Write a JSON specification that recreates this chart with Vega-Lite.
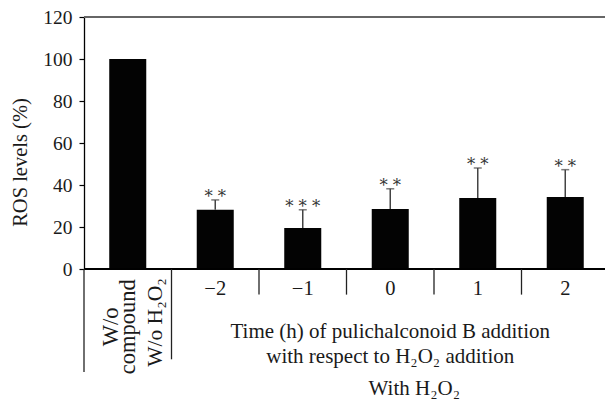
{
  "$schema": "https://vega.github.io/schema/vega-lite/v6.json",
  "width": 521,
  "height": 252,
  "autosize": {"type": "none"},
  "padding": {"left": 84, "top": 17, "right": 0, "bottom": 133},
  "background": "white",
  "config": {
    "view": {"stroke": null},
    "font": "Liberation Serif",
    "text": {"font": "Liberation Serif"}
  },
  "data": {
    "values": [
      {"cat": "W/o", "label": "", "value": 100},
      {"cat": "-2", "label": "−2", "value": 28.2, "upper": 32.9, "sig": "* *"},
      {"cat": "-1", "label": "−1", "value": 19.5, "upper": 28.2, "sig": "* * *"},
      {"cat": "0", "label": "0", "value": 28.6, "upper": 38.2, "sig": "* *"},
      {"cat": "1", "label": "1", "value": 33.8, "upper": 48.1, "sig": "* *"},
      {"cat": "2", "label": "2", "value": 34.3, "upper": 47.3, "sig": "* *"}
    ]
  },
  "encoding": {
    "x": {
      "field": "cat",
      "type": "nominal",
      "sort": ["W/o", "-2", "-1", "0", "1", "2"],
      "scale": {"domain": ["W/o", "-2", "-1", "0", "1", "2"], "range": [0, 525], "paddingInner": 0.577, "paddingOuter": 0.2885},
      "axis": null
    }
  },
  "layer": [
    {
      "mark": {"type": "bar", "color": "#030303"},
      "encoding": {
        "y": {
          "field": "value",
          "type": "quantitative",
          "scale": {"domain": [0, 120]},
          "axis": {
            "values": [0, 20, 40, 60, 80, 100, 120],
            "grid": false,
            "domainColor": "#000000",
            "domainWidth": 1.3,
            "tickColor": "#000000",
            "tickWidth": 1.2,
            "tickSize": 5,
            "labelPadding": 7,
            "labelFont": "Liberation Serif",
            "labelFontSize": 19.5,
            "labelColor": "#1a1a1a",
            "title": "ROS levels (%)",
            "titleFont": "Liberation Serif",
            "titleFontSize": 20.5,
            "titleFontWeight": "normal",
            "titleColor": "#1a1a1a",
            "titleAngle": -90,
            "titleX": -64,
            "titleY": 145,
            "titleAlign": "center",
            "titleBaseline": "middle"
          }
        }
      }
    },
    {
      "transform": [{"filter": "isValid(datum.upper)"}],
      "mark": {"type": "rule", "color": "#444444", "strokeWidth": 1.5},
      "encoding": {
        "y": {"field": "value", "type": "quantitative"},
        "y2": {"field": "upper"}
      }
    },
    {
      "transform": [{"filter": "isValid(datum.upper)"}],
      "mark": {"type": "tick", "color": "#444444", "thickness": 1.5, "size": 8, "orient": "horizontal"},
      "encoding": {
        "y": {"field": "upper", "type": "quantitative"}
      }
    },
    {
      "transform": [{"filter": "isValid(datum.upper)"}],
      "mark": {"type": "text", "font": "DejaVu Serif", "fontSize": 16.5, "color": "#333333", "baseline": "alphabetic", "dy": 2},
      "encoding": {
        "y": {"field": "upper", "type": "quantitative"},
        "text": {"field": "sig"}
      }
    },
    {
      "mark": {"type": "rule", "color": "#666666", "strokeWidth": 2},
      "encoding": {"x": null, "y": {"datum": 120}}
    },
    {
      "mark": {"type": "rule", "color": "#000000", "strokeWidth": 1.3},
      "encoding": {"x": null, "y": {"datum": 0}}
    },
    {
      "transform": [{"filter": "indexof(['-1','0','1','2'], datum.cat) >= 0"}],
      "mark": {"type": "rule", "color": "#222222", "strokeWidth": 1.3},
      "encoding": {
        "x": {"field": "cat", "type": "nominal", "bandPosition": -0.682},
        "y": {"datum": 0},
        "y2": {"datum": -12.2}
      }
    },
    {
      "transform": [{"filter": "datum.cat === '-2'"}],
      "mark": {"type": "rule", "color": "#222222", "strokeWidth": 1.3},
      "encoding": {
        "x": {"field": "cat", "type": "nominal", "bandPosition": -0.682},
        "y": {"datum": 0},
        "y2": {"datum": -43}
      }
    },
    {
      "transform": [{"filter": "datum.cat === 'W/o'"}],
      "mark": {"type": "rule", "color": "#222222", "strokeWidth": 1.3},
      "encoding": {
        "x": {"field": "cat", "type": "nominal", "bandPosition": -0.682},
        "y": {"datum": 0},
        "y2": {"datum": -49}
      }
    },
    {
      "transform": [{"filter": "datum.cat !== 'W/o'"}],
      "mark": {"type": "text", "fontSize": 20.5, "color": "#1a1a1a", "baseline": "middle"},
      "encoding": {
        "y": {"datum": -9.4},
        "text": {"field": "label"}
      }
    },
    {
      "transform": [{"filter": "datum.cat === 'W/o'"}],
      "mark": {"type": "text", "fontSize": 22.5, "color": "#1a1a1a", "angle": 270, "align": "center", "baseline": "middle", "lineHeight": 17, "text": ["W/o", "compound"]},
      "encoding": {
        "x": {"field": "cat", "type": "nominal", "bandPosition": 0.06},
        "y": {"datum": -27.5}
      }
    },
    {
      "transform": [{"filter": "datum.cat === 'W/o'"}],
      "mark": {"type": "text", "fontSize": 21.5, "color": "#1a1a1a", "angle": 270, "align": "center", "baseline": "middle", "text": "W/o H₂O₂"},
      "encoding": {
        "x": {"field": "cat", "type": "nominal", "bandPosition": 1.27},
        "y": {"datum": -25.5}
      }
    },
    {
      "transform": [{"filter": "datum.cat === '0'"}],
      "mark": {"type": "text", "fontSize": 21, "color": "#1a1a1a", "align": "center", "baseline": "alphabetic", "text": "Time (h) of pulichalconoid B addition"},
      "encoding": {
        "y": {"datum": -32.7}
      }
    },
    {
      "transform": [{"filter": "datum.cat === '0'"}],
      "mark": {"type": "text", "fontSize": 21, "color": "#1a1a1a", "align": "center", "baseline": "alphabetic", "text": "with respect to H₂O₂ addition"},
      "encoding": {
        "y": {"datum": -44.6}
      }
    },
    {
      "transform": [{"filter": "datum.cat === '0'"}],
      "mark": {"type": "text", "fontSize": 21, "color": "#1a1a1a", "align": "center", "baseline": "alphabetic", "text": "With H₂O₂"},
      "encoding": {
        "x": {"field": "cat", "type": "nominal", "bandPosition": 1.15},
        "y": {"datum": -59.8}
      }
    }
  ]
}
